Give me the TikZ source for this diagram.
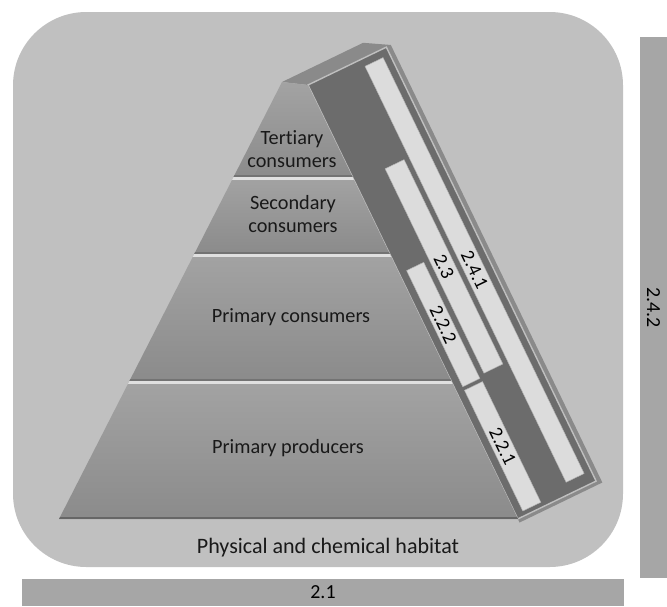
\documentclass[tikz,border=0pt]{standalone}
\usepackage{fontspec}
\setmainfont{Carlito}[Ligatures=NoCommon]
\definecolor{habitatgrey}{HTML}{C0C0C0}
\definecolor{stripgrey}{HTML}{A6A6A6}
\definecolor{rimgrey}{HTML}{8A8A8A}
\definecolor{panelgrey}{HTML}{6C6C6C}
\definecolor{barlight}{HTML}{DCDCDC}
\definecolor{tiertop}{HTML}{A3A3A3}
\definecolor{tierbot}{HTML}{8B8B8B}

\begin{document}
\begin{tikzpicture}[x=0.03cm, y=-0.03cm,
    semithick,
    tiertext/.style={font=\fontsize{17.3}{19}\selectfont, align=center, text=black!90},
    strip/.style={rectangle, fill=stripgrey, inner sep=0pt, font=\fontsize{17}{19}\selectfont},
    numbar/.style={fill=barlight, draw=black!30, thin},
    numtext/.style={inner sep=0pt, rotate=-64.2, font=\fontsize{16.5}{19}\selectfont},
    tier/.style={top color=tiertop, bottom color=tierbot}
    ]
\useasboundingbox (0,0) rectangle (667,606);

\fill[habitatgrey, rounded corners=2.2cm] (13,12) rectangle (623,567);
\node[strip, minimum width=18.06cm, minimum height=0.81cm] (s21) at (323,592.5) {2.1};
\node[strip, rotate=-90, minimum width=16.23cm, minimum height=0.81cm] (s242) at (653.5,307.5) {2.4.2};

\begin{scope}[shift={(308,85)}, rotate=25.8]
\fill[rimgrey] (-22,-14) -- (68,-14) -- (92,0) -- (92,486) -- (0,486) -- (0,0) -- cycle;
\filldraw[fill=panelgrey, draw=black!25, line width=1.2pt] (0,0) rectangle (87,482);
\filldraw[numbar] (59.5,8) rectangle (79.5,470);
\filldraw[numbar] (33,109) rectangle (54,336);
\filldraw[numbar] (8,210) rectangle (27,339);
\filldraw[numbar] (8,343) rectangle (28,477);
\node[numtext] (t241) at (69.5,239) {2.4.1};
\node[numtext] (t23) at (43.5,222.5) {2.3};
\node[numtext] (t222) at (17.5,274.5) {2.2.2};
\node[numtext] (t221) at (18,410) {2.2.1};
\end{scope}

\begin{scope}
\clip (282,82) -- (308,85) -- (518,519) -- (59,519) -- cycle;
\shade[tier] (0,82) rectangle (667,176);
\shade[tier] (0,176) rectangle (667,253);
\shade[tier] (0,253) rectangle (667,380);
\shade[tier] (0,380) rectangle (667,519);
\foreach \y in {176,253,380} {
  \draw[black!55, line width=1.2pt] (0,\y) -- (667,\y);
  \draw[black!12, line width=2.2pt] (0,{\y+2.5}) -- (667,{\y+2.5});
}
\draw[black!60, line width=2pt] (0,518) -- (667,518);
\end{scope}

\node[tiertext] (ter) at (292,149) {Tertiary\\consumers};
\node[tiertext] (sec) at (293,214) {Secondary\\consumers};
\node[tiertext] (pcon) at (291,317) {Primary consumers};
\node[tiertext] (pprod) at (288,448) {Primary producers};
\node[tiertext, font=\fontsize{18.8}{20}\selectfont] (hab) at (328,548) {Physical and chemical habitat};
\end{tikzpicture}
\end{document}
